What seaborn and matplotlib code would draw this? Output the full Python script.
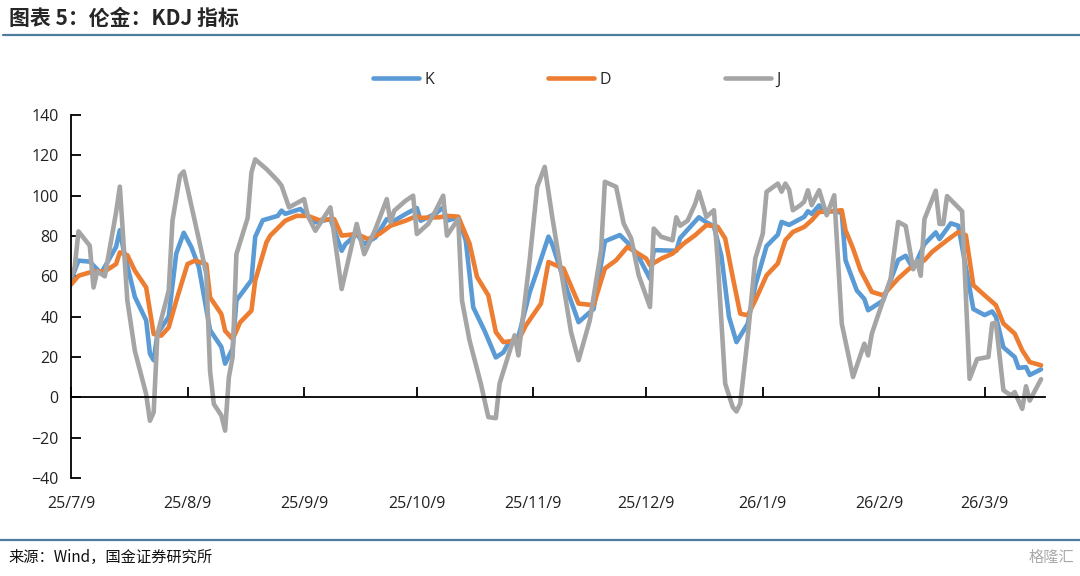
import pandas as pd
import matplotlib.pyplot as plt
import matplotlib.dates as mdates
import seaborn as sns
from matplotlib.lines import Line2D
from matplotlib.ticker import FuncFormatter

sns.set_theme(style="white")
plt.rcParams['font.family'] = ['Open Sans', 'Noto Sans CJK SC', 'DejaVu Sans']

# x values: calendar days after the first date
start = pd.Timestamp('2025-07-09')

k_day = [0, 2, 5, 8, 12, 13, 14, 17, 20, 21, 22, 23, 26, 28, 30, 32, 34, 37, 40, 41,
         43, 44, 48, 49, 51, 55, 56, 57, 61, 63, 65, 69, 72, 73, 76, 78, 81, 84, 86, 89,
         92, 93, 95, 97, 99, 100, 103, 105, 107, 110, 113, 115, 116, 119, 122, 124, 127, 128, 132, 135,
         139, 142, 146, 149, 151, 154, 155, 161, 162, 167, 169, 171, 173, 175, 177, 180, 182, 185, 188, 189,
         191, 195, 196, 197, 199, 200, 203, 205, 206, 209, 211, 212, 216, 220, 222, 224, 227, 230, 231, 234,
         236, 240, 243, 245, 246, 248, 251, 252, 254, 255, 258]
k_val = [58, 67.8, 67.3, 61.5, 74.6, 82.9, 73, 49.8, 38.2, 21.7, 18.4, 31.6, 40, 71.3, 81.6, 74.6, 64.7, 33.3, 25, 16.7,
         24.2, 48.1, 58.1, 79.6, 87.8, 90, 92.6, 91, 93.4, 90, 86.8, 88.4, 72.7, 76, 81, 76, 79.3, 88.4, 87.6, 90.9,
         93.9, 87.6, 89.3, 91.2, 94.2, 87.6, 89.3, 77.7, 44.6, 33, 19.8, 22.3, 25.6, 30, 52, 62.8, 79.7, 76, 53, 37.3,
         43.8, 77.4, 80.5, 74.9, 69.6, 58.8, 73, 72.7, 79, 89.3, 86.8, 84.8, 70, 40, 27.4, 36.5, 55.5, 75, 80.7, 87,
         85.5, 89.5, 92.3, 91, 95.2, 92.3, 92.3, 91.5, 68, 53, 48.8, 43.2, 48, 68.1, 70.2, 63.8, 76, 81.8, 78.5, 86.3,
         85.1, 43.8, 40.8, 42.6, 40, 24.8, 20, 14.6, 15, 11.1, 13.9]

d_day = [0, 2, 6, 9, 12, 13, 15, 17, 20, 22, 24, 26, 28, 31, 33, 36, 37, 40, 41, 43,
         45, 48, 49, 52, 53, 57, 60, 63, 66, 70, 72, 76, 79, 82, 85, 89, 92, 93, 98, 100,
         103, 106, 108, 111, 113, 115, 119, 121, 125, 127, 131, 135, 139, 142, 145, 148, 153, 154, 157, 160,
         163, 166, 169, 172, 174, 176, 178, 180, 182, 185, 188, 190, 192, 195, 197, 199, 201, 205, 206, 208,
         210, 213, 216, 220, 223, 227, 229, 233, 236, 238, 240, 243, 246, 248, 251, 253, 255, 258]
d_val = [55.9, 60.3, 62.5, 62.5, 66.1, 71.9, 70.5, 62.8, 54.5, 31.4, 30.6, 34.7, 47.9, 66.1, 67.8, 66, 49.6, 41.3, 33, 28.9,
         37.2, 43, 57.9, 76.9, 80.2, 87.6, 90, 90, 87.9, 88.4, 80.2, 81, 78.5, 81, 85.1, 87.6, 90, 89, 89.3, 90,
         89.6, 76.3, 59.7, 50.6, 32.4, 27.4, 28.3, 35.7, 46.5, 67.1, 63.9, 46.5, 45.7, 63.9, 68, 74.6, 68.8, 65.5, 68.8, 71.3,
         76.3, 80.4, 85.4, 84.6, 78.8, 59.7, 41.5, 40.7, 48.1, 60.5, 66.4, 77.9, 82, 84.5, 87.8, 92, 92, 92.8, 82.9, 73.8,
         63, 52.3, 50.6, 58.9, 63.9, 68, 72.1, 77.9, 82, 80.4, 55.6, 50.6, 45.7, 36.6, 31.6, 23.3, 17.5, 15.9]

j_day = [0, 1, 2, 5, 6, 7, 9, 12, 13, 15, 17, 20, 21, 22, 23, 26, 27, 29, 30, 34,
         36, 37, 38, 40, 41, 42, 43, 44, 47, 48, 49, 52, 55, 56, 58, 62, 63, 65, 69, 72,
         76, 78, 81, 84, 85, 86, 89, 91, 92, 95, 97, 99, 100, 103, 104, 106, 109, 111, 113, 114,
         118, 119, 120, 122, 124, 126, 128, 133, 135, 138, 141, 142, 145, 147, 149, 151, 154, 155, 157, 160,
         161, 162, 164, 166, 167, 169, 171, 172, 174, 176, 177, 178, 180, 182, 184, 185, 188, 189, 190, 191,
         192, 194, 195, 196, 197, 199, 201, 203, 205, 208, 211, 212, 213, 216, 218, 220, 222, 224, 225, 226,
         227, 230, 231, 232, 233, 237, 239, 241, 244, 245, 246, 248, 250, 251, 253, 254, 255, 258]
j_val = [60, 64.5, 82.3, 75.2, 54.5, 62.5, 60, 91.7, 104.5, 48, 23, 1.6, -11.6, -7.4, 31.4, 52.9, 87.6, 110, 112, 78.5,
         61, 13, -3.3, -9, -16.5, 10, 20, 71, 89, 111.6, 118, 113.2, 107.4, 105, 94.2, 98.3, 90, 82.6, 94.2, 53.7,
         86, 71, 83.5, 98.3, 86.8, 92.6, 97.5, 100, 81, 86, 92.6, 100, 80.2, 88.5, 48, 28.3, 6.9, -9.8, -10.3, 6.9,
         30.8, 20.8, 36.6, 68, 104.4, 114.3, 89.5, 32.4, 18.4, 38.2, 73, 106.9, 104.4, 86.2, 78.8, 60.5, 44.8, 83.7, 79.6, 77.9,
         89.3, 85.1, 87.6, 95.9, 102, 89.5, 92.8, 68, 6.8, -4.8, -7, -3.1, 29.9, 68.8, 81.2, 101.9, 106, 102, 106, 103,
         92.8, 95.3, 97, 102.7, 95.3, 102.7, 90.3, 100.2, 36.6, 10.1, 26.6, 20.8, 31.6, 48.1, 58.9, 87, 85, 63.5, 67.8, 60.3,
         88.4, 102.5, 86, 86, 99.8, 92.3, 9.2, 19, 20, 36.6, 37, 3.5, 1, 2.6, -5.7, 5.5, -1.6, 9]

series_names = ['K', 'D', 'J']
colors = ['#5B9BD5', '#ED7D31', '#A5A5A5']
y_ticks = list(range(-40, 141, 20))

title = '图表 5：伦金：KDJ 指标'
source = '来源：Wind，国金证券研究所'

# long format for seaborn
frames = []
for name, days, vals in zip(series_names, [k_day, d_day, j_day], [k_val, d_val, j_val]):
    frames.append(pd.DataFrame({
        'date': start + pd.to_timedelta(days, unit='D'),
        'value': vals,
        'series': name,
    }))
df = pd.concat(frames, ignore_index=True)

fig = plt.figure(figsize=(10.8, 5.76), dpi=100)
ax = fig.add_axes([0.0657, 0.1701, 0.9017, 0.6302])

sns.lineplot(data=df, x='date', y='value', hue='series', hue_order=series_names,
             palette=colors, linewidth=3.3, estimator=None, legend=False, ax=ax,
             solid_capstyle='round', solid_joinstyle='round')

ax.set_xlim(start, start + pd.Timedelta(days=259))
ax.set_ylim(-40, 140)
ax.set_xlabel('')
ax.set_ylabel('')

# x axis line sits on zero, labels go at the bottom
months = mdates.MonthLocator(bymonthday=9)
ax.spines['bottom'].set_position(('data', 0))
ax.xaxis.set_major_locator(months)
ax.tick_params(axis='x', direction='in', length=7, width=1.3, color='black',
               bottom=True, labelbottom=False)

sec = ax.secondary_xaxis('bottom')
sec.xaxis.set_major_locator(mdates.MonthLocator(bymonthday=9))
sec.xaxis.set_major_formatter(FuncFormatter(
    lambda v, pos: '{}/{}/{}'.format(mdates.num2date(v).year % 100,
                                     mdates.num2date(v).month,
                                     mdates.num2date(v).day)))
sec.tick_params(length=0, pad=13, labelsize=11.5, labelcolor='#222222')
sec.spines['bottom'].set_visible(False)

ax.set_yticks(y_ticks)
ax.tick_params(axis='y', direction='in', length=7, width=1.3, color='black',
               left=True, pad=9, labelsize=11.5, labelcolor='#222222')

for side in ['top', 'right']:
    ax.spines[side].set_visible(False)
for side in ['left', 'bottom']:
    ax.spines[side].set_color('black')
    ax.spines[side].set_linewidth(1.3)

fig.legend(ax.lines[:3], series_names, loc='center', bbox_to_anchor=(0.534, 0.861),
           ncol=3, frameon=False, fontsize=11.5, handlelength=2.9,
           columnspacing=7.1, handletextpad=0.35)

# header / footer
cjk = ['Noto Sans CJK SC', 'DejaVu Sans']
fig.text(0.008, 1 - 18 / 576, title, fontsize=15, fontweight='bold', fontstyle='italic',
         family=cjk, va='center', ha='left')
fig.add_artist(Line2D([0.003, 1.0], [1 - 35 / 576] * 2, color='#4E7D9C', lw=1.6,
                      transform=fig.transFigure))
fig.add_artist(Line2D([0.0, 1.0], [1 - 540 / 576] * 2, color='#4E7D9C', lw=1.6,
                      transform=fig.transFigure))
fig.text(0.008, 1 - 557 / 576, source, fontsize=11, family=cjk, va='center', ha='left',
         color='#111111')
fig.text(0.995, 1 - 557 / 576, '格隆汇', fontsize=11, family=cjk, va='center', ha='right',
         color='#AAAAAA')

fig.savefig('out.png', dpi=100)
